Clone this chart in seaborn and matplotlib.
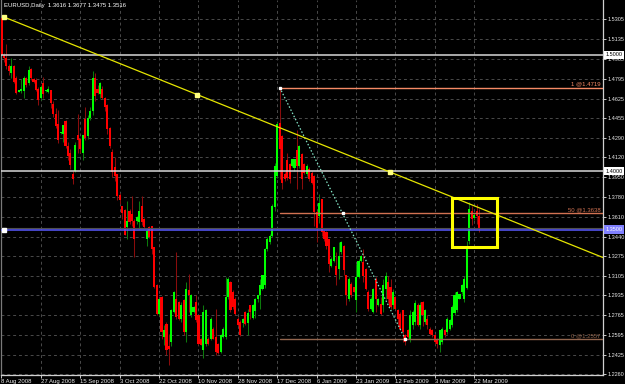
import numpy as np
import pandas as pd
import matplotlib
matplotlib.use('Agg')
import matplotlib.pyplot as plt
import matplotlib.transforms as mtransforms
import seaborn as sns

sns.set_theme(style='dark')
plt.rcParams['font.family'] = ['Liberation Sans', 'DejaVu Sans']

# ---------------- data ----------------
opens = [
    1.5320, 1.5000, 1.4970, 1.4900, 1.4840, 1.4900, 1.4800, 1.4685, 1.4690, 1.4690,
    1.4800, 1.4760, 1.4880, 1.4790, 1.4780, 1.4710, 1.4630, 1.4760, 1.4690, 1.4680,
    1.4700, 1.4580, 1.4490, 1.4410, 1.4330, 1.4320, 1.4430, 1.4220, 1.4160, 1.3980,
    1.4000, 1.4310, 1.4280, 1.4160, 1.4450, 1.4300, 1.4460, 1.4520, 1.4800, 1.4710,
    1.4660, 1.4710, 1.4630, 1.4570, 1.4370, 1.4170, 1.4040, 1.3980, 1.3800, 1.3700,
    1.3670,
    1.3520, 1.3661, 1.3633, 1.3576, 1.3576, 1.3561, 1.3700, 1.3590, 1.3419, 1.3519,
    1.3533, 1.3347, 1.3020, 1.2778, 1.2920, 1.2578, 1.2692, 1.2500, 1.2536, 1.2792,
    1.2906, 1.2878, 1.2735, 1.2892, 1.2621, 1.2977, 1.2764, 1.2792, 1.2878, 1.2764,
    1.2564, 1.2464, 1.2521, 1.2564, 1.2564, 1.2650, 1.2578, 1.2521, 1.2450, 1.2578,
    1.2578, 1.2920, 1.3049, 1.2963, 1.2906, 1.2735, 1.2707,
    1.2700, 1.2793, 1.2700, 1.2850, 1.2740, 1.2800, 1.2900, 1.2935, 1.2992, 1.3020,
    1.3334, 1.3390, 1.3447, 1.3690, 1.3960, 1.4416,
    1.4302, 1.3975, 1.4100, 1.4060, 1.4046, 1.4032, 1.4180, 1.4046, 1.4145, 1.4060,
    1.3975, 1.4017, 1.3989, 1.3960, 1.3647, 1.3618, 1.3760, 1.3490, 1.3476, 1.3419,
    1.3191, 1.3234, 1.3191, 1.3163, 1.3305, 1.3362, 1.3106, 1.2900, 1.3035, 1.3006,
    1.2892, 1.3091, 1.3230,
    1.3219, 1.3162, 1.2963, 1.2820, 1.2792, 1.3077, 1.2849, 1.2863, 1.2849, 1.2991,
    1.3048, 1.3005, 1.2849, 1.2920, 1.2806, 1.2778, 1.2806, 1.2593,
    1.2635, 1.2564, 1.2680, 1.2707, 1.2849, 1.2678, 1.2878, 1.2707, 1.2735, 1.2650,
    1.2636, 1.2593, 1.2564, 1.2507, 1.2536, 1.2636, 1.2621, 1.2650, 1.2678, 1.2780,
    1.2806, 1.2906, 1.2963, 1.2906, 1.3000, 1.3400, 1.3660, 1.3595, 1.3661, 1.3616,
]
highs = [
    1.5330, 1.5020, 1.5090, 1.4920, 1.4970, 1.4910, 1.4820, 1.4700, 1.4790, 1.4815,
    1.4810, 1.4900, 1.4890, 1.4800, 1.4800, 1.4720, 1.4740, 1.4810, 1.4700, 1.4730,
    1.4700, 1.4600, 1.4540, 1.4530, 1.4340, 1.4400, 1.4440, 1.4250, 1.4190, 1.4000,
    1.4250, 1.4490, 1.4290, 1.4310, 1.4550, 1.4480, 1.4550, 1.4860, 1.4840, 1.4740,
    1.4770, 1.4730, 1.4640, 1.4580, 1.4380, 1.4190, 1.4120, 1.3980, 1.3810, 1.3700,
    1.3680,
    1.3746, 1.3680, 1.3789, 1.3590, 1.3620, 1.3746, 1.3789, 1.3600, 1.3504, 1.3530,
    1.3533, 1.3350, 1.3030, 1.2906, 1.2930, 1.2678, 1.2710, 1.2600, 1.2820, 1.2975,
    1.3305, 1.2890, 1.2878, 1.2900, 1.3049, 1.3120, 1.2950, 1.2840, 1.2935, 1.2770,
    1.2570, 1.2849, 1.2820, 1.2580, 1.2750, 1.2660, 1.2820, 1.2530, 1.2600, 1.2660,
    1.3090, 1.3090, 1.3060, 1.2980, 1.2920, 1.2750, 1.2720,
    1.2740, 1.2800, 1.2821, 1.2855, 1.2860, 1.2910, 1.2940, 1.3077, 1.3110, 1.3340,
    1.3440, 1.3460, 1.3720, 1.4074, 1.4420, 1.4719,
    1.4316, 1.3990, 1.4160, 1.4074, 1.4110, 1.4110, 1.4359, 1.4230, 1.4160, 1.4074,
    1.4060, 1.4040, 1.4000, 1.3965, 1.3660, 1.3803, 1.3765, 1.3500, 1.3490, 1.3419,
    1.3260, 1.3350, 1.3305, 1.3390, 1.3400, 1.3365, 1.3110, 1.3090, 1.3050, 1.3010,
    1.3205, 1.3250, 1.3280,
    1.3333, 1.3170, 1.2980, 1.2920, 1.3000, 1.3090, 1.2910, 1.2920, 1.3077, 1.3134,
    1.3105, 1.3077, 1.2991, 1.2930, 1.2820, 1.2790, 1.2810, 1.2600,
    1.2650, 1.2806, 1.2806, 1.2891, 1.2870, 1.2878, 1.2890, 1.2820, 1.2763, 1.2660,
    1.2650, 1.2600, 1.2570, 1.2640, 1.2660, 1.2650, 1.2750, 1.2730, 1.2850, 1.2963,
    1.2970, 1.2950, 1.3030, 1.3100, 1.3400, 1.3738, 1.3700, 1.3640, 1.3718, 1.3677,
]
lows = [
    1.4960, 1.4940, 1.4880, 1.4830, 1.4800, 1.4760, 1.4660, 1.4680, 1.4670, 1.4630,
    1.4720, 1.4740, 1.4780, 1.4760, 1.4690, 1.4570, 1.4610, 1.4630, 1.4680, 1.4670,
    1.4540, 1.4470, 1.4370, 1.4240, 1.4320, 1.4250, 1.4200, 1.4100, 1.4020, 1.3890,
    1.3990, 1.4160, 1.4160, 1.4100, 1.4270, 1.4280, 1.4440, 1.4480, 1.4600, 1.4660,
    1.4630, 1.4620, 1.4520, 1.4320, 1.4200, 1.3950, 1.3920, 1.3750, 1.3720, 1.3590,
    1.3450,
    1.3419, 1.3550, 1.3533, 1.3262, 1.3550, 1.3504, 1.3540, 1.3510, 1.3362, 1.3430,
    1.3291, 1.3000, 1.2770, 1.2760, 1.2564, 1.2507, 1.2422, 1.2336, 1.2500, 1.2780,
    1.2735, 1.2720, 1.2707, 1.2593, 1.2536, 1.2792, 1.2750, 1.2780, 1.2710, 1.2510,
    1.2507, 1.2393, 1.2500, 1.2510, 1.2550, 1.2560, 1.2422, 1.2430, 1.2440, 1.2570,
    1.2564, 1.2900, 1.2792, 1.2820, 1.2770, 1.2670, 1.2590,
    1.2660, 1.2680, 1.2593, 1.2735, 1.2730, 1.2740, 1.2880, 1.2821, 1.2980, 1.3000,
    1.3320, 1.3380, 1.3440, 1.3660, 1.3940, 1.3932,
    1.3846, 1.3920, 1.3925, 1.3903, 1.4040, 1.4000, 1.3846, 1.4030, 1.3846, 1.3980,
    1.3960, 1.3920, 1.3890, 1.3533, 1.3390, 1.3560, 1.3447, 1.3400, 1.3330, 1.3134,
    1.3180, 1.3220, 1.3020, 1.3077, 1.3290, 1.3106, 1.2850, 1.2890, 1.2920, 1.2960,
    1.2793, 1.3080, 1.3220,
    1.3048, 1.2980, 1.2800, 1.2810, 1.2780, 1.2792, 1.2840, 1.2763, 1.2792, 1.2906,
    1.2870, 1.2820, 1.2820, 1.2815, 1.2678, 1.2640, 1.2536, 1.2510,
    1.2570, 1.2536, 1.2650, 1.2678, 1.2670, 1.2650, 1.2670, 1.2690, 1.2650, 1.2593,
    1.2580, 1.2520, 1.2479, 1.2450, 1.2520, 1.2580, 1.2600, 1.2640, 1.2660, 1.2763,
    1.2790, 1.2900, 1.2950, 1.2880, 1.2990, 1.3380, 1.3540, 1.3585, 1.3547, 1.3475,
]
closes = [
    1.5000, 1.4970, 1.4900, 1.4860, 1.4900, 1.4770, 1.4670, 1.4700, 1.4710, 1.4800,
    1.4740, 1.4870, 1.4800, 1.4770, 1.4700, 1.4610, 1.4720, 1.4660, 1.4700, 1.4710,
    1.4590, 1.4490, 1.4390, 1.4270, 1.4340, 1.4400, 1.4220, 1.4130, 1.4050, 1.3930,
    1.4230, 1.4270, 1.4190, 1.4310, 1.4290, 1.4460, 1.4520, 1.4800, 1.4650, 1.4670,
    1.4760, 1.4630, 1.4550, 1.4360, 1.4220, 1.3990, 1.3960, 1.3790, 1.3750, 1.3640,
    1.3450,
    1.3576, 1.3561, 1.3576, 1.3419, 1.3604, 1.3661, 1.3561, 1.3519, 1.3490, 1.3433,
    1.3333, 1.3006, 1.2778, 1.2906, 1.2621, 1.2635, 1.2464, 1.2470, 1.2806, 1.2963,
    1.2749, 1.2735, 1.2849, 1.2621, 1.2991, 1.2935, 1.2935, 1.2835, 1.2721, 1.2521,
    1.2510, 1.2792, 1.2806, 1.2521, 1.2735, 1.2564, 1.2450, 1.2436, 1.2593, 1.2650,
    1.2920, 1.3077, 1.2806, 1.2835, 1.2778, 1.2678, 1.2593,
    1.2735, 1.2690, 1.2780, 1.2793, 1.2850, 1.2906, 1.2935, 1.3020, 1.3106, 1.3334,
    1.3419, 1.3447, 1.3704, 1.4046, 1.4402, 1.4190,
    1.3903, 1.3932, 1.3940, 1.3932, 1.4103, 1.4103, 1.4046, 1.4216, 1.3932, 1.3989,
    1.4046, 1.3932, 1.3903, 1.3647, 1.3504, 1.3732, 1.3476, 1.3419, 1.3362, 1.3206,
    1.3248, 1.3348, 1.3106, 1.3277, 1.3390, 1.3150, 1.2935, 1.3077, 1.2935, 1.2963,
    1.3091, 1.3234, 1.3277,
    1.3105, 1.2991, 1.2820, 1.2906, 1.2991, 1.2906, 1.2906, 1.2778, 1.3020, 1.3105,
    1.2906, 1.2835, 1.2963, 1.2820, 1.2735, 1.2650, 1.2621, 1.2536,
    1.2578, 1.2763, 1.2792, 1.2870, 1.2678, 1.2849, 1.2763, 1.2806, 1.2678, 1.2607,
    1.2593, 1.2536, 1.2521, 1.2636, 1.2650, 1.2593, 1.2735, 1.2721, 1.2835, 1.2934,
    1.2963, 1.2948, 1.3020, 1.3077, 1.3362, 1.3680, 1.3590, 1.3625, 1.3616, 1.3516,
]

date_labels = ['8 Aug 2008', '27 Aug 2008', '15 Sep 2008', '3 Oct 2008', '22 Oct 2008',
               '10 Nov 2008', '28 Nov 2008', '17 Dec 2008', '6 Jan 2009', '23 Jan 2009',
               '12 Feb 2009', '3 Mar 2009', '22 Mar 2009']
date_positions = [0, 16, 32, 48, 64, 80, 96, 112, 128, 144, 160, 176, 192]
price_ticks = [1.5305, 1.5135, 1.4965, 1.4795, 1.4625, 1.4455, 1.4290, 1.4120, 1.3950,
               1.3780, 1.3610, 1.3440, 1.3275, 1.3105, 1.2935, 1.2765, 1.2595, 1.2425, 1.2260]
level_prices = [1.5000, 1.4000, 1.3500]
fib_prices = [1.4719, 1.3638, 1.2557]
fib_names = ['1', '50', '0']
fib_start, fib_end = 113, 164
trend_pts = [(1.0, 1.5325), (157.8, 1.3994)]
box_x = [183.0, 201.2]
box_y = [1.3350, 1.3771]
header = 'EURUSD,Daily  1.3616 1.3677 1.3475 1.3516'

# ---------------- figure ----------------
W, H = 625, 384
fig = plt.figure(figsize=(W / 100, H / 100), dpi=100, facecolor='black')
ax = fig.add_axes([1 / W, 9 / H, 602 / W, 375 / H])
ax.set_facecolor('black')
XMAX = 244.3
ax.set_xlim(-0.2, XMAX)
ax.set_ylim(1.2251, 1.5471)

df = pd.DataFrame({'i': np.arange(len(closes)), 'open': opens, 'high': highs,
                   'low': lows, 'close': closes})
df['up'] = df['close'] >= df['open']
df['bottom'] = df[['open', 'close']].min(axis=1)
df['height'] = (df['close'] - df['open']).abs().clip(lower=0.0009)

# grid
grid_kw = dict(color='#4a4a4a', lw=0.7, linestyle=(0, (3, 3)), zorder=0.5)
for p in price_ticks:
    ax.axhline(p, **grid_kw)
for d in date_positions:
    ax.axvline(d, **grid_kw)

# candles
wick_cols = np.where(df['up'], '#0c7a0c', '#8a0c0c')
ax.vlines(df['i'], df['low'], df['high'], colors=wick_cols, lw=0.75, zorder=2)
body_cols = np.where(df['up'], '#00ff00', '#ff0000')
ax.bar(df['i'], df['height'], bottom=df['bottom'], width=0.85, color=body_cols,
       linewidth=0, zorder=3)

# horizontal levels
ax.axhline(level_prices[0], color='#d8d8d8', lw=1.1, zorder=4)
ax.axhline(level_prices[1], color='#d8d8d8', lw=1.1, zorder=4)
ax.axhline(level_prices[2] + 0.0013, color='#505050', lw=0.8, zorder=4)
ax.axhline(level_prices[2], color='#5a5aff', lw=1.1, zorder=4)
ax.plot([1.0], [level_prices[2]], marker='s', ms=2.2, color='white', zorder=6,
        clip_on=False)

# fibonacci
fib_cols = ['#f58a66', '#d27252', '#93664e']
for p, name, c in zip(fib_prices, fib_names, fib_cols):
    ax.plot([fib_start, XMAX], [p, p], color=c, lw=1.0, zorder=4)
    ax.text(XMAX - 1.0, p + 0.0012, f'{name} @{p:.4f}', color=c, fontsize=4.3,
            ha='right', va='bottom', zorder=6)
fib_df = pd.DataFrame({'x': [fib_start, fib_end], 'y': [fib_prices[0], fib_prices[2]]})
sns.lineplot(data=fib_df, x='x', y='y', ax=ax, color='#84e6c8', lw=0.9,
             linestyle=(0, (1.2, 1.6)), zorder=5)
fx = [fib_start, (fib_start + fib_end) / 2, fib_end]
fy = [fib_prices[0], fib_prices[1], fib_prices[2]]
ax.plot(fx, fy, 's', ms=2.0, color='white', zorder=6, linestyle='none')

# yellow trendline (ray)
(x0, y0), (x1, y1) = trend_pts
slope = (y1 - y0) / (x1 - x0)
ax.plot([x0, XMAX], [y0, y1 + slope * (XMAX - x1)], color='#e6e600', lw=0.9, zorder=5)
ax.plot([x0, (x0 + x1) / 2, x1], [y0, (y0 + y1) / 2, y1], 's', ms=2.2,
        color='#ffff80', zorder=6, linestyle='none', clip_on=False)

# yellow rectangle
ax.plot([box_x[0], box_x[1], box_x[1], box_x[0], box_x[0]],
        [box_y[0], box_y[0], box_y[1], box_y[1], box_y[0]],
        color='#ffff00', lw=2.2, zorder=6, solid_joinstyle='miter')

# axes styling
ax.grid(False)
ax.spines['top'].set_visible(False)
ax.spines['left'].set_color('#7a7a7a')
ax.spines['bottom'].set_color('#d0d0d0')
ax.spines['right'].set_color('#d0d0d0')
for s in ['left', 'bottom', 'right']:
    ax.spines[s].set_linewidth(0.9)

ax.yaxis.tick_right()
ax.set_yticks(price_ticks)
ax.set_yticklabels([f'{p:.4f}' for p in price_ticks])
ax.tick_params(axis='y', colors='#e8e8e8', labelsize=4.0, length=2.0, width=0.6,
               pad=1.0, direction='out', right=True, left=False)
ax.set_xticks(date_positions)
ax.set_xticklabels(date_labels, ha='left')
ax.tick_params(axis='x', colors='#e8e8e8', labelsize=4.3, length=2.2, width=0.6,
               pad=1.0, direction='out', bottom=True)
ax.set_xlabel('')
ax.set_ylabel('')

# price boxes on the right scale
btrans = mtransforms.blended_transform_factory(ax.transAxes, ax.transData)
for p, fc, tc in [(level_prices[0], 'white', 'black'),
                  (level_prices[1], 'white', 'black'),
                  (level_prices[2], '#8080ff', 'white')]:
    ax.text(1.004, p, f'{p:.4f}', transform=btrans, ha='left', va='center',
            fontsize=4.0, color=tc, zorder=10, clip_on=False,
            bbox=dict(boxstyle='square,pad=0.3', fc=fc, ec='none'))

fig.text(4 / W, 1 - 6 / H, header, color='white', fontsize=4.3, ha='left', va='center')

fig.savefig('out.png', dpi=100, facecolor='black')
